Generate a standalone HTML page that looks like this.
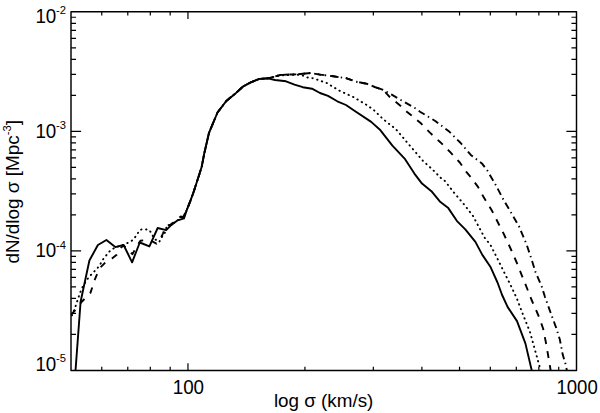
<!DOCTYPE html>
<html><head><meta charset="utf-8"><style>
html,body{margin:0;padding:0;background:#fff;}
svg{display:block;}
text{font-family:"Liberation Sans",sans-serif;fill:#000;}
</style></head><body>
<svg width="600" height="413" viewBox="0 0 600 413">
<rect width="600" height="413" fill="#fff"/>
<defs><clipPath id="c"><rect x="71.0" y="11.8" width="505.5" height="358.59999999999997"/></clipPath></defs>
<g clip-path="url(#c)" fill="none" stroke="#000" stroke-width="1.9" stroke-linejoin="round">
<polyline points="75.4,372.0 80.6,301.8 89.4,260.5 97.9,245.0 106.4,240.0 115.3,247.1 123.6,245.0 132.1,262.3 139.8,242.5 149.4,246.4 157.7,228.0 166.2,230.1 171.1,225.2 177.7,220.3 184.0,218.4 187.0,209.4 190.2,201.4 193.2,193.2 198.8,176.0 201.7,166.7 204.3,153.3 209.0,132.9 217.5,112.5 226.6,100.7 236.1,92.9 243.3,86.3 251.3,82.1 259.0,79.0 268.0,78.4 275.0,80.0 286.0,81.3 294.5,84.6 302.8,87.2 312.0,88.7 320.0,93.0 328.0,95.9 337.3,101.3 346.0,105.0 353.3,110.0 371.2,121.9 380.5,130.3 392.4,145.6 405.1,159.2 414.4,173.6 422.0,183.6 431.4,191.2 439.8,201.4 448.3,208.1 456.8,220.8 465.3,229.3 475.4,241.9 482.2,254.6 490.7,267.3 497.5,282.5 502.1,295.0 507.7,307.1 517.0,321.1 525.4,343.4 532.1,372.0"/>
<polyline points="70.0,320.0 74.4,309.5 77.0,301.8 80.2,292.4 83.0,286.0 87.3,279.2 90.5,275.3 94.1,271.7 97.5,268.1 100.3,264.2 102.8,259.6 105.7,256.0 108.9,252.0 113.2,248.6 118.0,246.5 122.5,245.2 126.8,243.3 131.2,241.3 134.6,238.0 137.5,233.6 140.1,229.7 144.2,229.2 149.4,230.0 152.1,234.4 154.3,238.8 159.2,242.0 161.9,237.1 164.6,233.5 166.8,226.0 171.0,224.6 177.7,220.3 183.0,217.5 187.0,209.4 190.2,201.4 193.2,193.2 198.8,176.0 201.7,166.7 204.3,153.3 209.0,132.9 217.5,112.5 226.6,100.7 236.1,92.9 243.3,86.3 251.3,82.1 259.0,79.0 268.0,78.3 273.0,77.0 280.0,75.5 290.0,74.8 298.0,74.8 302.7,75.5 307.5,77.5 313.3,78.3 326.7,83.0 340.0,91.0 353.3,97.0 366.7,105.0 373.7,110.0 383.3,119.3 396.0,129.3 407.6,143.0 422.9,160.8 433.0,170.0 441.5,178.6 444.9,181.0 454.2,192.9 463.6,203.9 472.9,215.8 478.8,226.8 484.7,237.8 490.7,245.3 497.5,258.8 504.2,272.4 511.0,285.9 516.9,298.6 522.6,313.6 530.1,332.3 534.7,349.0 539.4,365.8 540.9,372.0" stroke-dasharray="0.4 4.6" stroke-linecap="round"/>
<polyline points="70.0,316.0 75.3,310.0 81.0,302.5 90.3,293.1 92.3,287.3 94.5,280.2 97.0,274.4 100.8,267.1 105.2,262.7 112.0,258.4 116.7,254.7 120.9,247.9 123.5,245.3 130.7,252.5 132.4,254.2 134.5,250.4 138.7,243.2 140.4,240.7 143.4,240.3 151.5,241.0 156.4,243.7 160.8,238.2 163.0,233.3 166.2,225.7 170.6,224.6 180.8,216.4 183.0,217.5" stroke-dasharray="6.4 7.8" stroke-dashoffset="-1.80"/>
<polyline points="183.0,217.5 187.0,209.4 190.2,201.4 193.2,193.2 198.8,176.0 201.7,166.7 204.3,153.3 209.0,132.9 217.5,112.5 226.6,100.7 236.1,92.9 243.3,86.3 251.3,82.1 259.0,79.0 268.0,78.3 273.0,77.0 280.0,75.0 290.0,74.5 298.0,74.3 310.7,73.0 320.0,74.6 333.3,76.3 346.7,78.3 356.0,81.7 366.7,83.7 374.7,87.0 383.3,90.0 390.0,97.3 400.7,106.0 406.8,111.7 411.3,115.3 421.2,123.6 430.2,132.9 440.3,142.2 450.5,152.4 459.8,162.5 466.1,171.7 471.2,177.6 478.0,186.9 483.6,197.1 492.0,210.7 498.8,224.2 503.4,233.2 511.0,249.5 516.9,263.0 522.0,275.8 527.1,288.5 531.4,299.5 538.4,315.5 543.1,328.5 545.9,342.5 549.6,363.9 550.9,372.0" stroke-dasharray="7.0 7.19" stroke-dashoffset="-11.54"/>
<polyline points="183.0,217.5 187.0,209.4 190.2,201.4 193.2,193.2 198.8,176.0 201.7,166.7 204.3,153.3 209.0,132.9 217.5,112.5 226.6,100.7 236.1,92.9 243.3,86.3 251.3,82.1 259.0,79.0 268.0,78.3 273.0,77.0 280.0,75.0 290.0,74.5 298.0,74.3 310.7,73.0 320.0,74.6 333.3,76.3 346.7,78.3 356.0,81.7 366.7,83.7 374.7,87.0 383.3,90.0 391.3,94.4 401.3,100.3 415.3,108.3 420.0,111.7 435.3,121.0 448.8,131.2 460.7,143.0 470.8,154.9 481.9,163.4 487.3,170.5 495.4,184.4 503.9,200.5 512.4,214.9 519.2,226.8 521.2,231.7 526.3,243.6 531.4,258.8 535.6,272.4 541.5,285.9 545.0,297.0 549.6,309.9 556.1,327.6 559.9,339.7 562.7,354.6 565.5,363.9 567.2,372.0" stroke-dasharray="7.0 3.8 1.4 3.88" stroke-dashoffset="-11.90"/>
</g>
<path d="M101.76 370.4V366.80M101.76 11.8V15.40M127.78 370.4V366.80M127.78 11.8V15.40M150.31 370.4V366.80M150.31 11.8V15.40M170.18 370.4V366.80M170.18 11.8V15.40M187.96 370.4V363.20M187.96 11.8V19.00M304.92 370.4V366.80M304.92 11.8V15.40M373.34 370.4V366.80M373.34 11.8V15.40M421.89 370.4V366.80M421.89 11.8V15.40M459.54 370.4V366.80M459.54 11.8V15.40M490.30 370.4V366.80M490.30 11.8V15.40M516.31 370.4V366.80M516.31 11.8V15.40M538.85 370.4V366.80M538.85 11.8V15.40M558.72 370.4V366.80M558.72 11.8V15.40M71.0 334.42H76.05M576.5 334.42H571.45M71.0 313.37H76.05M576.5 313.37H571.45M71.0 298.43H76.05M576.5 298.43H571.45M71.0 286.85H76.05M576.5 286.85H571.45M71.0 277.38H76.05M576.5 277.38H571.45M71.0 269.38H76.05M576.5 269.38H571.45M71.0 262.45H76.05M576.5 262.45H571.45M71.0 256.34H76.05M576.5 256.34H571.45M71.0 250.87H81.10M576.5 250.87H566.40M71.0 214.88H76.05M576.5 214.88H571.45M71.0 193.83H76.05M576.5 193.83H571.45M71.0 178.90H76.05M576.5 178.90H571.45M71.0 167.32H76.05M576.5 167.32H571.45M71.0 157.85H76.05M576.5 157.85H571.45M71.0 149.85H76.05M576.5 149.85H571.45M71.0 142.92H76.05M576.5 142.92H571.45M71.0 136.80H76.05M576.5 136.80H571.45M71.0 131.33H81.10M576.5 131.33H566.40M71.0 95.35H76.05M576.5 95.35H571.45M71.0 74.30H76.05M576.5 74.30H571.45M71.0 59.37H76.05M576.5 59.37H571.45M71.0 47.78H76.05M576.5 47.78H571.45M71.0 38.32H76.05M576.5 38.32H571.45M71.0 30.32H76.05M576.5 30.32H571.45M71.0 23.38H76.05M576.5 23.38H571.45M71.0 17.27H76.05M576.5 17.27H571.45" stroke="#000" stroke-width="1.2" fill="none"/>
<rect x="71.0" y="11.8" width="505.5" height="358.59999999999997" fill="none" stroke="#000" stroke-width="1.45" stroke-linejoin="round"/>
<g font-size="19.8">
<text x="35.4" y="22.8" textLength="20.9" lengthAdjust="spacingAndGlyphs">10</text>
<text x="35.4" y="137.8" textLength="20.9" lengthAdjust="spacingAndGlyphs">10</text>
<text x="35.4" y="257.4" textLength="20.9" lengthAdjust="spacingAndGlyphs">10</text>
<text x="35.4" y="371" textLength="20.9" lengthAdjust="spacingAndGlyphs">10</text>
</g>
<g font-size="11.2">
<text x="56" y="14.3">-2</text>
<text x="56" y="129">-3</text>
<text x="56" y="248.6">-4</text>
<text x="56" y="362.3">-5</text>
</g>
<g font-size="19.5" text-anchor="middle">
<text x="188.4" y="394.3" textLength="31.4" lengthAdjust="spacingAndGlyphs">100</text>
<text x="577.1" y="394.4" textLength="41.3" lengthAdjust="spacingAndGlyphs">1000</text>
</g>
<text x="273.9" y="407" font-size="18.4" textLength="99.5" lengthAdjust="spacingAndGlyphs">log σ (km/s)</text>
<g transform="translate(19.1,263.6) rotate(-90)">
<text x="0" y="0" font-size="18.8" textLength="143.5" lengthAdjust="spacingAndGlyphs">dN/dlog σ [Mpc<tspan font-size="11.2" dy="-8.5">-3</tspan><tspan dy="8.5">]</tspan></text>
</g>
</svg>
</body></html>
